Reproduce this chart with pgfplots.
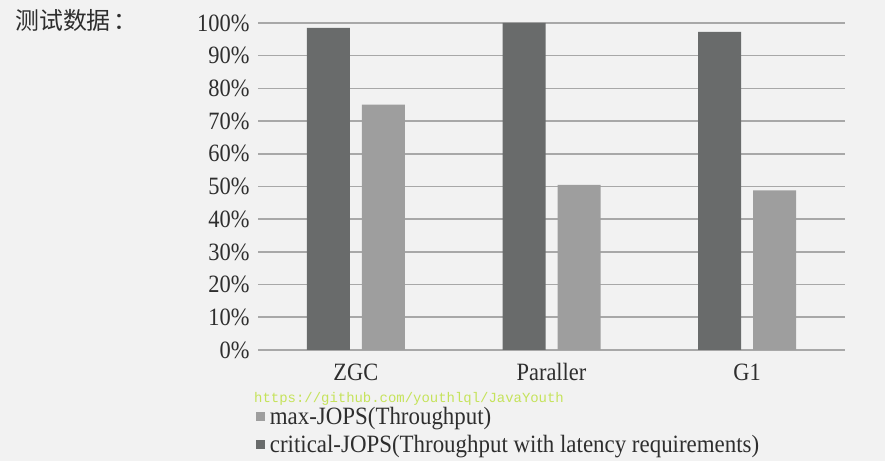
\documentclass[border=0pt]{standalone}
\usepackage{pgfplots}
\pgfplotsset{compat=1.18}
\usepackage{fontspec}
\setmainfont[FakeStretch=0.9]{Liberation Serif}
\newfontfamily\legfont[FakeStretch=0.92]{Liberation Serif}
\newfontfamily\cjk{Noto Sans CJK SC}
\newfontfamily\mono{Liberation Mono}
\definecolor{bg}{HTML}{F2F2F2}
\definecolor{darkbar}{HTML}{696B6B}
\definecolor{lightbar}{HTML}{9E9E9E}
\definecolor{gridc}{HTML}{A8A8A8}
\definecolor{wm}{HTML}{C5E35A}
\definecolor{txt}{HTML}{2E2E2E}
\begin{document}
\begin{tikzpicture}[x=1bp,y=1bp]
\fill[bg] (0,0) rectangle (885,461);
\node[anchor=west, font=\cjk\fontsize{24}{28}\selectfont, text=txt, inner sep=0] at (15,441) {测试数据\hspace{3bp}：};
\begin{axis}[
  at={(258bp,111bp)}, anchor=south west, scale only axis,
  width=587bp, height=327bp,
  ymin=0, ymax=100, xmin=-0.5, xmax=2.5,
  ytick={0,10,...,100},
  yticklabel={\pgfmathprintnumber{\tick}\%},
  xtick={0,1,2}, xticklabels={ZGC,Paraller,G1},
  axis line style={draw=none}, major tick length=0pt,
  ymajorgrids, grid style={gridc, line width=1.6bp},
  ybar=12bp, bar width=43bp,
  /pgf/number format/assume math mode=true,
  tick label style={font=\fontsize{25}{28}\selectfont, text=txt},
  yticklabel style={xshift=-5bp},
  xticklabel style={yshift=-10bp},
  legend style={at={(-0.004,-0.168)}, anchor=north west, draw=none, fill=none,
    font=\legfont\fontsize{25}{28}\selectfont, text=txt, row sep=5bp, inner sep=0pt,
    nodes={inner sep=2bp}},
  legend cell align=left,
  legend reversed,
  legend image code/.code={\path[#1, draw=none] (0bp,-4.5bp) rectangle (9bp,4.5bp); \path (12bp,0bp);},
]
\addplot[fill=darkbar, draw=none] coordinates {(0,98.5) (1,100) (2,97.3)};
\addlegendentry{critical-JOPS(Throughput with latency requirements)}
\addplot[fill=lightbar, draw=none] coordinates {(0,75) (1,50.5) (2,48.8)};
\addlegendentry{max-JOPS(Throughput)}
\end{axis}
\node[anchor=west, font=\mono\fontsize{14}{16}\selectfont, text=wm, inner sep=0] at (254,62) {https://github.com/youthlql/JavaYouth};
\end{tikzpicture}
\end{document}
